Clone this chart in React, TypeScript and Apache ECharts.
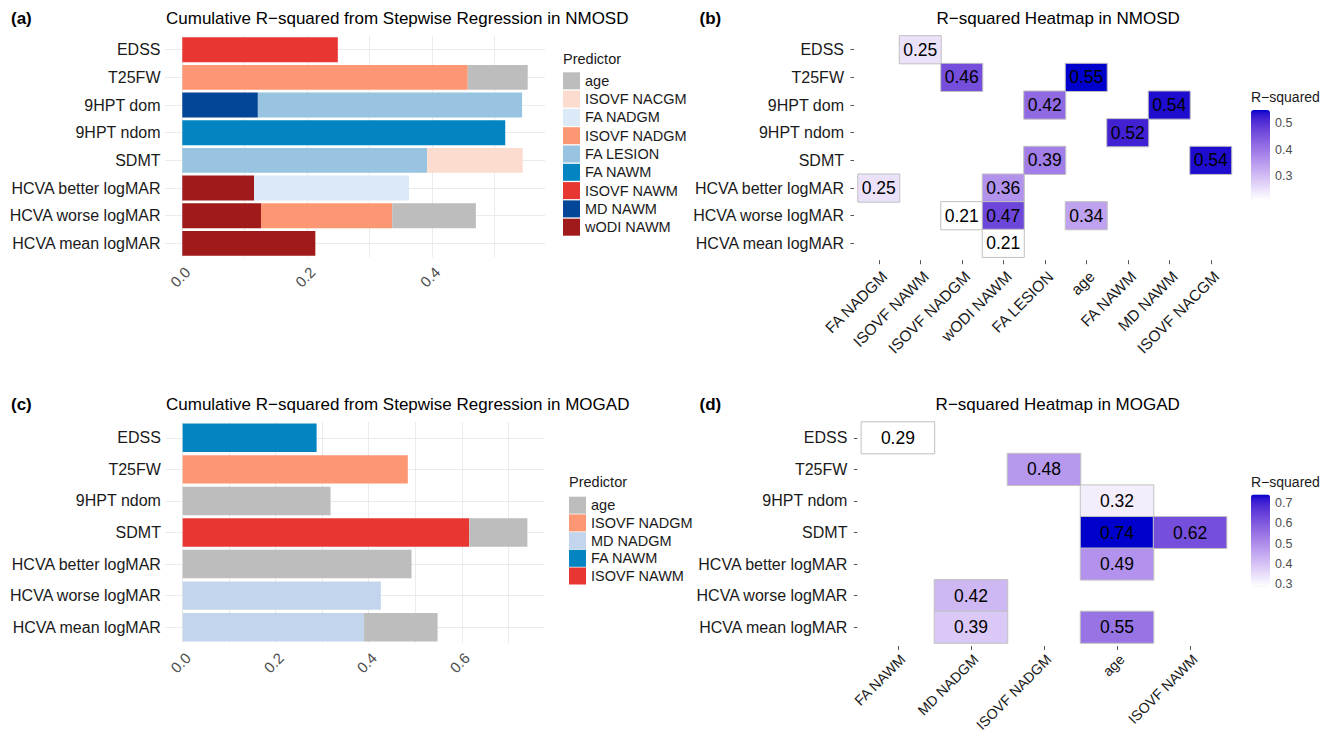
import React, { useEffect, useRef } from 'react';
import * as echarts from 'echarts';

// ---------------- data ----------------
const NMOSD_OUTCOMES = ['EDSS', 'T25FW', '9HPT dom', '9HPT ndom', 'SDMT', 'HCVA better logMAR', 'HCVA worse logMAR', 'HCVA mean logMAR'];
const MOGAD_OUTCOMES = ['EDSS', 'T25FW', '9HPT ndom', 'SDMT', 'HCVA better logMAR', 'HCVA worse logMAR', 'HCVA mean logMAR'];

// (a) stepwise R² increments per predictor, in NMOSD_OUTCOMES order
const NMOSD_WODI_NAWM = [0, 0, 0, 0, 0, 0.115, 0.126, 0.213];
const NMOSD_MD_NAWM = [0, 0, 0.121, 0, 0, 0, 0, 0];
const NMOSD_ISOVF_NAWM = [0.249, 0, 0, 0, 0, 0, 0, 0];
const NMOSD_FA_NAWM = [0, 0, 0, 0.517, 0, 0, 0, 0];
const NMOSD_FA_LESION = [0, 0, 0.423, 0, 0.392, 0, 0, 0];
const NMOSD_ISOVF_NADGM = [0, 0.457, 0, 0, 0, 0, 0.21, 0];
const NMOSD_FA_NADGM = [0, 0, 0, 0, 0, 0.248, 0, 0];
const NMOSD_ISOVF_NACGM = [0, 0, 0, 0, 0.153, 0, 0, 0];
const NMOSD_AGE = [0, 0.096, 0, 0, 0, 0, 0.134, 0];

// (c) stepwise R² increments per predictor, in MOGAD_OUTCOMES order
const MOGAD_ISOVF_NAWM = [0, 0, 0, 0.616, 0, 0, 0];
const MOGAD_FA_NAWM = [0.288, 0, 0, 0, 0, 0, 0];
const MOGAD_MD_NADGM = [0, 0, 0, 0, 0, 0.426, 0.39];
const MOGAD_ISOVF_NADGM = [0, 0.484, 0, 0, 0, 0, 0];
const MOGAD_AGE = [0, 0, 0.318, 0.125, 0.492, 0, 0.158];

const NMOSD_LEGEND = ['age', 'ISOVF NACGM', 'FA NADGM', 'ISOVF NADGM', 'FA LESION', 'FA NAWM', 'ISOVF NAWM', 'MD NAWM', 'wODI NAWM'];
const MOGAD_LEGEND = ['age', 'ISOVF NADGM', 'MD NADGM', 'FA NAWM', 'ISOVF NAWM'];

// (b) heatmap: cumulative R² at each step
const NMOSD_HEAT_PREDICTORS = ['FA NADGM', 'ISOVF NAWM', 'ISOVF NADGM', 'wODI NAWM', 'FA LESION', 'age', 'FA NAWM', 'MD NAWM', 'ISOVF NACGM'];
const NMOSD_HEAT_CELLS: [string, string, number][] = [
  ['ISOVF NAWM', 'EDSS', 0.25],
  ['ISOVF NADGM', 'T25FW', 0.46],
  ['age', 'T25FW', 0.55],
  ['FA LESION', '9HPT dom', 0.42],
  ['MD NAWM', '9HPT dom', 0.54],
  ['FA NAWM', '9HPT ndom', 0.52],
  ['FA LESION', 'SDMT', 0.39],
  ['ISOVF NACGM', 'SDMT', 0.54],
  ['FA NADGM', 'HCVA better logMAR', 0.25],
  ['wODI NAWM', 'HCVA better logMAR', 0.36],
  ['ISOVF NADGM', 'HCVA worse logMAR', 0.21],
  ['wODI NAWM', 'HCVA worse logMAR', 0.47],
  ['age', 'HCVA worse logMAR', 0.34],
  ['wODI NAWM', 'HCVA mean logMAR', 0.212],
];

// (d) heatmap
const MOGAD_HEAT_PREDICTORS = ['FA NAWM', 'MD NADGM', 'ISOVF NADGM', 'age', 'ISOVF NAWM'];
const MOGAD_HEAT_CELLS: [string, string, number][] = [
  ['FA NAWM', 'EDSS', 0.29],
  ['ISOVF NADGM', 'T25FW', 0.48],
  ['age', '9HPT ndom', 0.32],
  ['age', 'SDMT', 0.74],
  ['ISOVF NAWM', 'SDMT', 0.62],
  ['age', 'HCVA better logMAR', 0.49],
  ['MD NADGM', 'HCVA worse logMAR', 0.42],
  ['MD NADGM', 'HCVA mean logMAR', 0.39],
  ['age', 'HCVA mean logMAR', 0.55],
];

// ---------------- style ----------------
const FONT = '"Liberation Sans", Arial, Helvetica, sans-serif';
const GRID_LINE = '#ebebeb';
const PRED_COLORS: Record<string, string> = {
  'age': '#BDBDBD',
  'ISOVF NACGM': '#FDDCD0',
  'FA NADGM': '#DCE9F6',
  'ISOVF NADGM': '#FC9773',
  'FA LESION': '#98C3E1',
  'FA NAWM': '#0484C0',
  'ISOVF NAWM': '#E83632',
  'MD NAWM': '#034596',
  'wODI NAWM': '#A11A1B',
  'MD NADGM': '#C3D5EC',
};
const HEAT_LOW = '#FFFFFF';
const HEAT_HIGH = '#0000CD';

// Lab interpolation (like ggplot2 scale_fill_gradient)
function hexToRgb(h: string) {
  const n = parseInt(h.slice(1), 16);
  return [(n >> 16) & 255, (n >> 8) & 255, n & 255];
}
function toLin(c: number) { c /= 255; return c <= 0.04045 ? c / 12.92 : Math.pow((c + 0.055) / 1.055, 2.4); }
function fromLin(c: number) {
  const v = c <= 0.0031308 ? 12.92 * c : 1.055 * Math.pow(Math.max(c, 0), 1 / 2.4) - 0.055;
  return Math.round(Math.max(0, Math.min(1, v)) * 255);
}
function rgbToLab(rgb: number[]) {
  const [R, G, B] = rgb.map(toLin);
  const X = (0.4124 * R + 0.3576 * G + 0.1805 * B) / 0.95047;
  const Y = 0.2126 * R + 0.7152 * G + 0.0722 * B;
  const Z = (0.0193 * R + 0.1192 * G + 0.9505 * B) / 1.08883;
  const f = (t: number) => (t > 0.008856 ? Math.cbrt(t) : 7.787 * t + 16 / 116);
  const fx = f(X), fy = f(Y), fz = f(Z);
  return [116 * fy - 16, 500 * (fx - fy), 200 * (fy - fz)];
}
function labToHex(lab: number[]) {
  const [L, a, b] = lab;
  const fy = (L + 16) / 116, fx = fy + a / 500, fz = fy - b / 200;
  const inv = (t: number) => (t * t * t > 0.008856 ? t * t * t : (t - 16 / 116) / 7.787);
  const X = 0.95047 * inv(fx), Y = inv(fy), Z = 1.08883 * inv(fz);
  const R = 3.2406 * X - 1.5372 * Y - 0.4986 * Z;
  const G = -0.9689 * X + 1.8758 * Y + 0.0415 * Z;
  const B = 0.0557 * X - 0.204 * Y + 1.057 * Z;
  return '#' + [R, G, B].map(fromLin).map((v) => v.toString(16).padStart(2, '0')).join('');
}
function labStops(lo: string, hi: string, n: number) {
  const A = rgbToLab(hexToRgb(lo)), B = rgbToLab(hexToRgb(hi));
  const out: string[] = [];
  for (let i = 0; i < n; i++) {
    const t = i / (n - 1);
    out.push(labToHex([A[0] + (B[0] - A[0]) * t, A[1] + (B[1] - A[1]) * t, A[2] + (B[2] - A[2]) * t]));
  }
  return out;
}

function evenTenth(v: number) {
  const k = v * 10;
  const r = Math.round(k);
  return Math.abs(k - r) < 1e-6 && r % 2 === 0 && r >= 0;
}
function tenth(v: number) {
  const k = v * 10;
  return Math.abs(k - Math.round(k)) < 1e-6;
}

function buildOption() {
  const aVals: Record<string, number[]> = {
    'age': NMOSD_AGE, 'ISOVF NACGM': NMOSD_ISOVF_NACGM, 'FA NADGM': NMOSD_FA_NADGM,
    'ISOVF NADGM': NMOSD_ISOVF_NADGM, 'FA LESION': NMOSD_FA_LESION, 'FA NAWM': NMOSD_FA_NAWM,
    'ISOVF NAWM': NMOSD_ISOVF_NAWM, 'MD NAWM': NMOSD_MD_NAWM, 'wODI NAWM': NMOSD_WODI_NAWM,
  };
  const cVals: Record<string, number[]> = {
    'age': MOGAD_AGE, 'ISOVF NADGM': MOGAD_ISOVF_NADGM, 'MD NADGM': MOGAD_MD_NADGM,
    'FA NAWM': MOGAD_FA_NAWM, 'ISOVF NAWM': MOGAD_ISOVF_NAWM,
  };
  const totals = (vals: Record<string, number[]>, n: number) =>
    Array.from({ length: n }, (_, i) => Object.values(vals).reduce((s, arr) => s + arr[i], 0));
  const aMax = Math.max(...totals(aVals, NMOSD_OUTCOMES.length));
  const cMax = Math.max(...totals(cVals, MOGAD_OUTCOMES.length));

  const bv = NMOSD_HEAT_CELLS.map((c) => c[2]);
  const dv = MOGAD_HEAT_CELLS.map((c) => c[2]);
  const bMin = Math.min(...bv), bMax = Math.max(...bv);
  const dMin = Math.min(...dv), dMax = Math.max(...dv);

  const grids = [
    { left: 165, top: 35.9, width: 380, height: 221.3 },
    { left: 858, top: 35.9, width: 373.5, height: 221.3 },
    { left: 165.4, top: 422, width: 379.2, height: 221 },
    { left: 861.4, top: 422, width: 365.2, height: 221 },
    { left: 1251, top: 110, width: 19, height: 90 },
    { left: 1251, top: 494.5, width: 19, height: 92 },
  ].map((g) => ({ ...g, show: false, containLabel: false, outerBoundsMode: 'none' }));

  const barX = (maxT: number, gi: number) => ({
    gridIndex: gi, type: 'value', min: -0.05 * maxT, max: 1.05 * maxT,
    minInterval: 0.1, maxInterval: 0.1,
    axisLine: { show: false }, axisTick: { show: false },
    splitLine: { show: true, showMinLine: false, showMaxLine: false, lineStyle: { color: GRID_LINE, width: 1 } },
    axisLabel: {
      rotate: 45, align: 'right', verticalAlign: 'top', margin: 7, fontSize: 15, color: '#4d4d4d', fontFamily: FONT,
      formatter: (v: number) => (evenTenth(v) ? v.toFixed(1) : ''),
    },
  });
  const barY = (cats: string[], gi: number) => ({
    gridIndex: gi, type: 'category', data: cats, inverse: true,
    axisLine: { show: false }, axisTick: { show: false }, splitLine: { show: false },
    axisLabel: { interval: 0, margin: 4.5, fontSize: 16, color: '#1a1a1a', fontFamily: FONT },
  });
  const heatX = (cats: string[], gi: number, size: number, margin: number) => ({
    gridIndex: gi, type: 'category', data: cats, offset: 3,
    axisLine: { show: false },
    axisTick: { show: true, alignWithLabel: true, length: 4, lineStyle: { color: '#555', width: 1 } },
    splitLine: { show: false },
    axisLabel: { interval: 0, rotate: 45, align: 'right', verticalAlign: 'top', margin, fontSize: size, color: '#1a1a1a', fontFamily: FONT },
  });
  const heatY = (cats: string[], gi: number) => ({
    gridIndex: gi, type: 'category', data: cats, inverse: true, offset: 4,
    axisLine: { show: false },
    axisTick: { show: true, alignWithLabel: true, length: 3.5, lineStyle: { color: '#555', width: 1 } },
    splitLine: { show: false },
    axisLabel: { interval: 0, margin: 10, fontSize: 16, color: '#1a1a1a', fontFamily: FONT },
  });
  const cbY = (mn: number, mx: number, gi: number) => ({
    gridIndex: gi, type: 'value', min: mn, max: mx, minInterval: 0.1, maxInterval: 0.1, position: 'right',
    axisLine: { show: false }, axisTick: { show: false }, splitLine: { show: false },
    axisLabel: {
      margin: 5, fontSize: 12.5, color: '#4d4d4d', fontFamily: FONT,
      formatter: (v: number) => (tenth(v) ? v.toFixed(1) : ''),
    },
  });

  const barSeries = (order: string[], vals: Record<string, number[]>, gi: number, cats: string[]) =>
    order.map((name, k) => {
      const s: any = {
        type: 'bar', name, xAxisIndex: gi, yAxisIndex: gi, stack: 'stack' + gi, barWidth: '90%',
        data: vals[name], itemStyle: { color: PRED_COLORS[name] }, z: 2, silent: true,
        emphasis: { disabled: true },
      };
      if (k === 0) {
        s.markLine = {
          z: 1, silent: true, symbol: ['none', 'none'], label: { show: false },
          lineStyle: { color: GRID_LINE, width: 1, type: 'solid' },
          emphasis: { disabled: true },
          data: cats.map((_, i) => ({ yAxis: i })),
        };
      }
      return s;
    });

  const heatSeries = (cells: [string, string, number][], gi: number) => ({
    type: 'heatmap', xAxisIndex: gi, yAxisIndex: gi,
    data: cells.map((c) => [c[0], c[1], c[2]]),
    itemStyle: { borderColor: '#c0c0c0', borderWidth: 1 },
    label: {
      show: true, fontSize: 17.5, color: '#000', fontFamily: FONT,
      formatter: (p: any) => Number(p.value[2]).toFixed(2),
    },
    emphasis: { disabled: true }, silent: true,
  });

  const aSeries = barSeries(NMOSD_LEGEND.slice().reverse(), aVals, 0, NMOSD_OUTCOMES);
  const cSeries = barSeries(MOGAD_LEGEND.slice().reverse(), cVals, 2, MOGAD_OUTCOMES);
  const series: any[] = [...aSeries, ...cSeries, heatSeries(NMOSD_HEAT_CELLS, 1), heatSeries(MOGAD_HEAT_CELLS, 3)];
  const idxB = aSeries.length + cSeries.length;
  const idxD = idxB + 1;
  const stops = labStops(HEAT_LOW, HEAT_HIGH, 25);

  const txt = (text: string, x: number, y: number, size: number, bold = false, fill = '#000') => ({
    type: 'text', x, y, silent: true,
    style: {
      text, fill, fontSize: size, fontWeight: bold ? 'bold' : 'normal', fontFamily: FONT,
      align: 'left', verticalAlign: 'middle',
    },
  });

  const legendBase = {
    orient: 'vertical', icon: 'rect', itemWidth: 17, itemHeight: 17, padding: 0,
    selectedMode: false,
    textStyle: { fontSize: 14.5, color: '#1a1a1a', fontFamily: FONT },
  };

  return {
    animation: false,
    backgroundColor: '#ffffff',
    textStyle: { fontFamily: FONT },
    grid: grids,
    xAxis: [
      barX(aMax, 0), heatX(NMOSD_HEAT_PREDICTORS, 1, 15.5, 8), barX(cMax, 2), heatX(MOGAD_HEAT_PREDICTORS, 3, 14.2, 6),
      { gridIndex: 4, type: 'value', show: false, min: 0, max: 1 },
      { gridIndex: 5, type: 'value', show: false, min: 0, max: 1 },
    ],
    yAxis: [
      barY(NMOSD_OUTCOMES, 0), heatY(NMOSD_OUTCOMES, 1), barY(MOGAD_OUTCOMES, 2), heatY(MOGAD_OUTCOMES, 3),
      cbY(bMin, bMax, 4), cbY(dMin, dMax, 5),
    ],
    legend: [
      { ...legendBase, data: NMOSD_LEGEND, left: 563, top: 72.3, itemGap: 1.3 },
      { ...legendBase, data: MOGAD_LEGEND, left: 569, top: 496.7, itemGap: 0.7 },
    ],
    visualMap: [
      {
        type: 'continuous', seriesIndex: idxB, min: bMin, max: bMax, left: 1251, top: 110,
        itemWidth: 19, itemHeight: 90, padding: 0, calculable: false, hoverLink: false,
        orient: 'vertical', inRange: { color: stops }, text: null, showLabel: false,
      },
      {
        type: 'continuous', seriesIndex: idxD, min: dMin, max: dMax, left: 1251, top: 494.5,
        itemWidth: 19, itemHeight: 92, padding: 0, calculable: false, hoverLink: false,
        orient: 'vertical', inRange: { color: stops }, text: null, showLabel: false,
      },
    ],
    graphic: [
      txt('(a)', 11, 18.3, 17, true),
      txt('Cumulative R\u2212squared from Stepwise Regression in NMOSD', 166, 18.3, 17),
      txt('(b)', 699.5, 18.3, 17, true),
      txt('R\u2212squared Heatmap in NMOSD', 936.5, 18.3, 17),
      txt('(c)', 11, 404.3, 17, true),
      txt('Cumulative R\u2212squared from Stepwise Regression in MOGAD', 166, 404.3, 17),
      txt('(d)', 699.5, 404.3, 17, true),
      txt('R\u2212squared Heatmap in MOGAD', 935.6, 404.3, 17),
      txt('Predictor', 563, 58.5, 14.5, false, '#1a1a1a'),
      txt('Predictor', 569, 481.7, 14.5, false, '#1a1a1a'),
      txt('R\u2212squared', 1251, 96.5, 14, false, '#1a1a1a'),
      txt('R\u2212squared', 1251, 481.7, 14, false, '#1a1a1a'),
    ],
    series,
  };
}

export default function App() {
  const ref = useRef<HTMLDivElement>(null);
  useEffect(() => {
    if (!ref.current) return;
    const chart = echarts.init(ref.current, undefined, { renderer: 'svg' });
    chart.setOption(buildOption() as any);
    return () => chart.dispose();
  }, []);
  return (
    <div
      ref={ref}
      style={{ position: 'absolute', left: 0, top: 0, width: 1332, height: 733, background: '#fff' }}
    />
  );
}
